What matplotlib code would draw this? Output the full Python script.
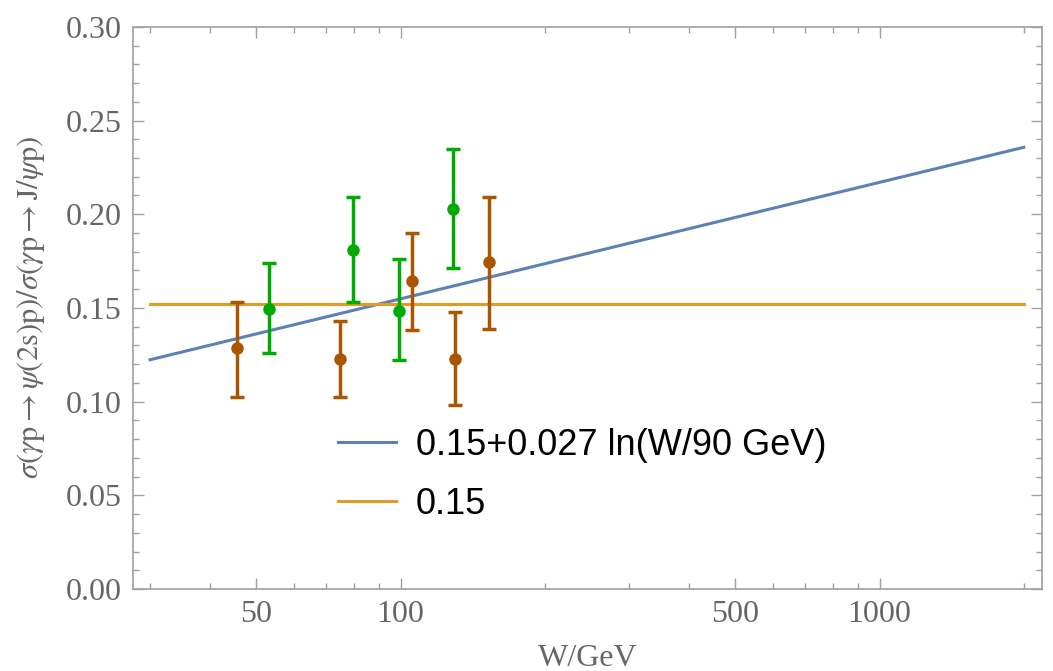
import numpy as np
import matplotlib
matplotlib.use('Agg')
import matplotlib.pyplot as plt
from matplotlib.ticker import FixedLocator, NullFormatter, MultipleLocator, FormatStrFormatter

# green data set
w_green = [53.2, 79.5, 99.2, 128.6]
r_green = [0.1495, 0.1809, 0.1485, 0.2029]
lo_green = [0.1261, 0.1530, 0.1222, 0.1711]
hi_green = [0.1741, 0.2090, 0.1762, 0.2349]

# brown data set
w_brown = [45.5, 74.8, 105.6, 129.9, 153.0]
r_brown = [0.1284, 0.1229, 0.1642, 0.1229, 0.1743]
lo_brown = [0.1026, 0.1026, 0.1380, 0.0982, 0.1389]
hi_brown = [0.1533, 0.1431, 0.1899, 0.1478, 0.2090]

# fit curves
w_range = [30, 2000]
const = 0.152
slope = 0.027
w0 = 90.0

plt.rcParams['mathtext.fontset'] = 'stix'

fig = plt.figure(figsize=(10.53, 6.71), dpi=100)
ax = fig.add_axes([0.126, 0.1222, 0.9893 - 0.126, 0.960 - 0.1222])

w = np.geomspace(w_range[0], w_range[1], 200)
ax.plot(w, const + slope * np.log(w / w0), color='#5E81B5', lw=2.2,
        label='0.15+0.027 ln(W/90 GeV)')
ax.plot(w_range, [const, const], color='#E19C24', lw=2.2, label='0.15')

def errs(r, lo, hi):
    r = np.array(r)
    return [r - np.array(lo), np.array(hi) - r]

ax.errorbar(w_brown, r_brown, yerr=errs(r_brown, lo_brown, hi_brown), fmt='o',
            color='#AA5500', ms=8, elinewidth=2.5, capsize=5, capthick=2.5)
ax.errorbar(w_green, r_green, yerr=errs(r_green, lo_green, hi_green), fmt='o',
            color='#00AA00', ms=8, elinewidth=2.5, capsize=5, capthick=2.5)

ax.set_xscale('log')
ax.set_xlim(27.6, 2180)
ax.set_ylim(0, 0.30)

ax.xaxis.set_major_locator(FixedLocator([50, 100, 500, 1000]))
ax.xaxis.set_major_formatter(FormatStrFormatter('%d'))
ax.xaxis.set_minor_locator(FixedLocator([30, 40, 60, 70, 80, 90, 200, 300, 400,
                                         600, 700, 800, 900, 2000]))
ax.xaxis.set_minor_formatter(NullFormatter())
ax.yaxis.set_major_locator(MultipleLocator(0.05))
ax.yaxis.set_major_formatter(FormatStrFormatter('%.2f'))
ax.yaxis.set_minor_locator(MultipleLocator(0.01))

for s in ax.spines.values():
    s.set_color('#a0a0a0')
    s.set_linewidth(1.2)
ax.tick_params(which='both', direction='in', top=True, right=True,
               color='#a0a0a0', width=1.0)
ax.tick_params(which='major', length=8, labelsize=23, labelcolor='#666666', pad=8)
ax.tick_params(which='minor', length=4)
for lab in ax.get_xticklabels() + ax.get_yticklabels():
    lab.set_family('Liberation Serif')

ax.set_xlabel('W/GeV', fontsize=23, color='#666666', family='Liberation Serif')
ax.xaxis.set_label_coords(0.5, -0.098)
ax.set_ylabel(r'$\sigma(\gamma\mathrm{p}\to\psi(2\mathrm{s})\mathrm{p})/\sigma(\gamma\mathrm{p}\to\mathrm{J}/\psi\mathrm{p})$',
              fontsize=22, color='#666666')
ax.yaxis.set_label_coords(-0.094, 0.5)

leg = ax.legend(loc='upper left', bbox_to_anchor=(0.19, 0.345), frameon=False,
                prop={'family': 'Liberation Sans', 'size': 26},
                handlelength=1.6, handletextpad=0.55, labelspacing=0.68)

fig.savefig('out.png', dpi=100)
